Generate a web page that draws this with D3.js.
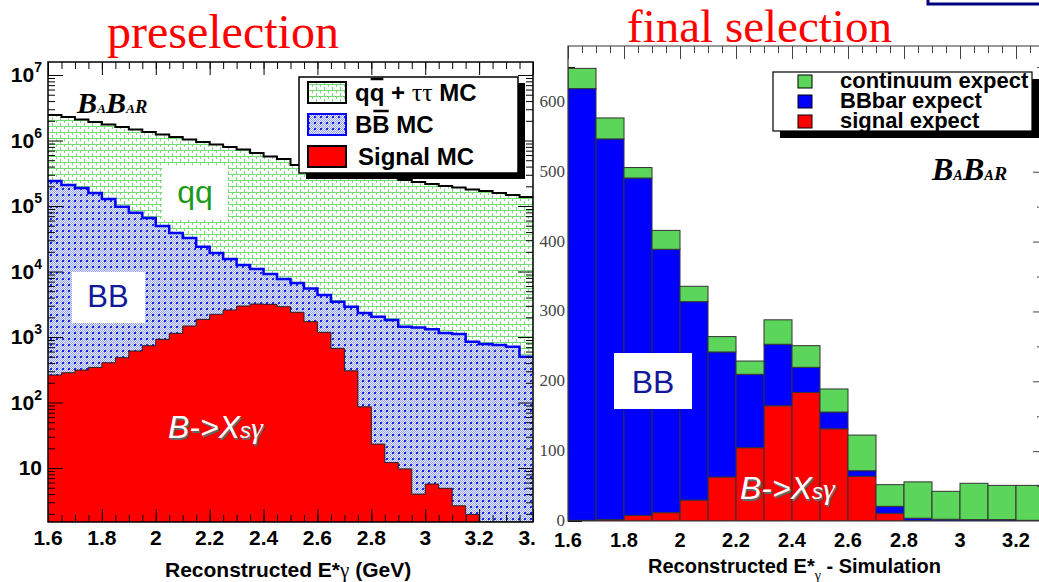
<!DOCTYPE html>
<html>
<head>
<meta charset="utf-8">
<script src="https://cdnjs.cloudflare.com/ajax/libs/d3/7.8.5/d3.min.js"></script>
<style>
  body { margin: 0; background: #fff; }
  svg { display: block; }
  .lab { font-family: "Liberation Sans", Arial, sans-serif; font-weight: bold; }
</style>
</head>
<body>
<svg id="chart" width="1039" height="582"></svg>
<script>

// ---- preselection: 0.05 GeV bins from 1.6 GeV, drawn on a log scale
const preStart = 1.6, preWidth = 0.05;
const qqPre = [2.45e6, 2.28e6, 2.09e6, 1.92e6, 1.75e6, 1.61e6, 1.47e6, 1.35e6, 1.24e6, 1.13e6,
               1.04e6, 9.5e5, 8.7e5, 7.96e5, 7.29e5, 6.44e5, 5.70e5, 5.22e5, 4.23e5, 3.94e5,
               3.67e5, 3.42e5, 3.19e5, 3.03e5, 2.87e5, 2.68e5, 2.49e5, 2.32e5, 2.17e5, 2.02e5,
               1.92e5, 1.79e5, 1.69e5, 1.58e5, 1.47e5, 1.37e5];
const bbPre = [2.41e5, 2.09e5, 1.88e5, 1.58e5, 1.28e5, 9.75e4, 7.9e4, 6.56e4, 4.95e4, 3.87e4,
               3.25e4, 2.39e4, 1.92e4, 1.55e4, 1.26e4, 1.09e4, 9160, 7680, 6670, 5500,
               4370, 3460, 2900, 2320, 2040, 1820, 1440, 1400, 1320, 1150,
               1110, 847, 782, 755, 711, 500];
const sigPre = [263, 285, 313, 344, 405, 483, 611, 736, 922, 1138,
                1472, 1862, 2222, 2585, 2972, 3190, 3155, 2904, 2384, 1713,
                1181, 672, 305, 86, 23.2, 12.1, 9.7, 4.0, 5.7, 4.9,
                2.65, 1.96, 0, 0, 0, 0];
const preXTicks = [1.6, 1.8, 2, 2.2, 2.4, 2.6, 2.8, 3, 3.2, 3.4];
const preYTicks = [10, 1e2, 1e3, 1e4, 1e5, 1e6, 1e7];

// ---- final selection: 0.1 GeV bins from 1.6 GeV, stacked
const finStart = 1.6, finWidth = 0.1;
const sigFin  = [1, 2, 8, 12, 30, 63, 105, 165, 184, 132, 64, 11, 0.5, 0, 0, 0, 0];
const bbFin   = [618, 545, 483, 377, 284, 179, 105, 88, 36, 24, 8, 10, 3.5, 2.5, 2, 2, 1];
const contFin = [29, 30, 15, 27, 22, 22, 19, 35, 31, 33, 51, 31, 52, 40, 52, 49, 50];
const finXTicks = [1.6, 1.8, 2, 2.2, 2.4, 2.6, 2.8, 3, 3.2];
const finYTicks = [0, 100, 200, 300, 400, 500, 600];

const svg = d3.select('#chart');
const defs = svg.append('defs');
const font = '"Liberation Sans", Arial, sans-serif';
const serif = '"Liberation Serif", "Times New Roman", serif';

// hatch patterns (ROOT-ish)
const pq = defs.append('pattern').attr('id', 'hatchQQ')
  .attr('patternUnits', 'userSpaceOnUse').attr('width', 8).attr('height', 6);
pq.append('rect').attr('width', 8).attr('height', 6).attr('fill', '#fff');
pq.append('path').attr('d', 'M0,0.5H8M0.5,0V3M4.5,3V6')
  .attr('stroke', '#74dc74').attr('stroke-width', 1).attr('fill', 'none');

const pb = defs.append('pattern').attr('id', 'hatchBB')
  .attr('patternUnits', 'userSpaceOnUse').attr('width', 6).attr('height', 6);
pb.append('rect').attr('width', 6).attr('height', 6).attr('fill', '#eef0ff');
for (let i = 0; i < 6; i++) for (let j = 0; j < 6; j++) {
  if ((i + j) % 2 === 0) pb.append('rect').attr('x', i).attr('y', j).attr('width', 1).attr('height', 1).attr('fill', '#8e9cf0');
}
pb.append('rect').attr('x', 2).attr('y', 2).attr('width', 2).attr('height', 2).attr('fill', '#1424e8');

// ================= left: preselection =================
const xPre = d3.scaleLinear().domain([1.6, 3.4]).range([48, 533]);
const yPre = d3.scaleLog().domain([1.5, 1.58e7]).range([522, 62]);
const preBottom = yPre.range()[0];

defs.append('clipPath').attr('id', 'clipPre').append('rect')
  .attr('x', 48).attr('y', 62).attr('width', 485).attr('height', 460);

function stepPoints(vals, start, w) {
  const pts = vals.map((v, i) => [start + i * w, v]);
  pts.push([start + vals.length * w, vals[vals.length - 1]]);
  return pts;
}
const yLogSafe = v => v > 0 ? Math.min(yPre(v), preBottom) : preBottom;
const preArea = d3.area().curve(d3.curveStepAfter)
  .x(d => xPre(d[0])).y0(preBottom).y1(d => yLogSafe(d[1]));
const preLine = d3.line().curve(d3.curveStepAfter)
  .x(d => xPre(d[0])).y(d => yLogSafe(d[1]));

const left = svg.append('g').attr('clip-path', 'url(#clipPre)');
const hists = [
  { vals: qqPre, fill: 'url(#hatchQQ)', stroke: '#000', sw: 2 },
  { vals: bbPre, fill: 'url(#hatchBB)', stroke: '#0000ff', sw: 2.5 },
  { vals: sigPre, fill: '#ff0000', stroke: '#222', sw: 1 }
];
hists.forEach(h => {
  const pts = stepPoints(h.vals, preStart, preWidth);
  left.append('path').attr('d', preArea(pts)).attr('fill', h.fill);
  left.append('path').attr('d', preLine(pts)).attr('fill', 'none')
    .attr('stroke', h.stroke).attr('stroke-width', h.sw);
});

// label boxes
left.append('rect').attr('x', 162).attr('y', 165).attr('width', 66).attr('height', 55).attr('fill', '#fff');
left.append('text').attr('x', 195).attr('y', 203).attr('text-anchor', 'middle')
  .attr('font-family', font).attr('font-size', 32).attr('fill', '#1a9a1a').text('qq');
left.append('rect').attr('x', 72).attr('y', 272).attr('width', 73).attr('height', 51).attr('fill', '#fff');
left.append('text').attr('x', 108).attr('y', 307).attr('text-anchor', 'middle')
  .attr('font-family', font).attr('font-size', 31).attr('fill', '#12189a').text('BB');

function decayLabel(g, x, y) {
  [['#666', 1.5], ['#fff', 0]].forEach(([c, o]) => {
    const t = g.append('text').attr('x', x + o).attr('y', y + o).attr('fill', c)
      .attr('font-family', font).attr('font-style', 'italic').attr('font-size', 32);
    t.append('tspan').text('B->X');
    t.append('tspan').attr('font-size', 22).text('s');
    t.append('tspan').attr('font-family', serif).attr('font-size', 30).text('\u03b3');
  });
}
decayLabel(left, 168, 438);

// axes of left panel
function tickAxis(g, axis, vals, size, tx) {
  g.append('g').attr('transform', tx)
    .call(axis.tickValues(vals).tickSize(size).tickSizeOuter(0).tickFormat(''))
    .call(s => s.select('.domain').remove())
    .call(s => s.selectAll('line').attr('stroke', '#000').attr('stroke-width', 1));
}
const preMinorX = d3.range(1.65, 3.4, 0.05);
const preMinorY = yPre.ticks().filter(v => !preYTicks.includes(v));
const axL = svg.append('g');
tickAxis(axL, d3.axisBottom(xPre), preXTicks, -13, 'translate(0,522)');
tickAxis(axL, d3.axisBottom(xPre), preMinorX, -7, 'translate(0,522)');
tickAxis(axL, d3.axisTop(xPre), preXTicks, -13, 'translate(0,62)');
tickAxis(axL, d3.axisTop(xPre), preMinorX, -7, 'translate(0,62)');
tickAxis(axL, d3.axisLeft(yPre), preYTicks, -15, 'translate(48,0)');
tickAxis(axL, d3.axisLeft(yPre), preMinorY, -7, 'translate(48,0)');
tickAxis(axL, d3.axisRight(yPre), preYTicks, -15, 'translate(533,0)');
tickAxis(axL, d3.axisRight(yPre), preMinorY, -7, 'translate(533,0)');
axL.append('rect').attr('x', 48).attr('y', 62).attr('width', 485).attr('height', 460)
  .attr('fill', 'none').attr('stroke', '#000').attr('stroke-width', 1.5);

preXTicks.forEach(v => {
  axL.append('text').attr('class', 'lab').attr('x', xPre(v)).attr('y', 545)
    .attr('text-anchor', 'middle').attr('font-size', 21).text(d3.format('')(v));
});
preYTicks.forEach(v => {
  const t = axL.append('text').attr('class', 'lab').attr('x', 42).attr('y', yPre(v) + 7)
    .attr('text-anchor', 'end').attr('font-size', 21).text('10');
  const e = Math.round(Math.log10(v));
  if (e > 1) t.append('tspan').attr('dy', -10).attr('font-size', 14).text(e);
});
const tl = axL.append('text').attr('class', 'lab').attr('x', 165).attr('y', 577).attr('font-size', 21);
tl.append('tspan').text('Reconstructed E*');
tl.append('tspan').attr('font-family', serif).attr('font-weight', 'normal').text('\u03b3');
tl.append('tspan').text(' (GeV)');

// BaBar logo
function babar(g, x, y, s) {
  const t = g.append('text').attr('x', x).attr('y', y).attr('font-family', serif)
    .attr('font-weight', 'bold').attr('font-style', 'italic').attr('fill', '#000');
  t.append('tspan').attr('font-size', s).text('B');
  t.append('tspan').attr('font-size', s * 0.45).text('A');
  t.append('tspan').attr('font-size', s).text('B');
  t.append('tspan').attr('font-size', s * 0.45).text('A');
  t.append('tspan').attr('font-size', s * 0.62).text('R');
}
babar(svg, 77, 113, 30);

// legend (left)
svg.append('rect').attr('x', 306).attr('y', 83).attr('width', 219).attr('height', 96).attr('fill', '#000');
svg.append('rect').attr('x', 299).attr('y', 77).attr('width', 219).attr('height', 96)
  .attr('fill', '#fff').attr('stroke', '#000').attr('stroke-width', 1.5);
const legPre = [
  { fill: 'url(#hatchQQ)', stroke: '#000', y: 82 },
  { fill: 'url(#hatchBB)', stroke: '#0000ff', y: 114 },
  { fill: '#ff0000', stroke: '#000', y: 146 }
];
legPre.forEach(d => {
  svg.append('rect').attr('x', 308).attr('y', d.y).attr('width', 38).attr('height', 21)
    .attr('fill', d.fill).attr('stroke', d.stroke).attr('stroke-width', 2);
});
const l1 = svg.append('text').attr('class', 'lab').attr('x', 355).attr('y', 101).attr('font-size', 24);
l1.append('tspan').text('qq');
l1.append('tspan').text(' + ');
l1.append('tspan').attr('font-family', serif).attr('font-weight', 'normal').attr('font-size', 26).text('\u03c4\u03c4');
l1.append('tspan').text(' MC');
const l2 = svg.append('text').attr('class', 'lab').attr('x', 355).attr('y', 133).attr('font-size', 24).text('BB MC');
svg.append('text').attr('class', 'lab').attr('x', 358).attr('y', 165).attr('font-size', 24).text('Signal MC');
// bars over the anti-particles
[[l1, 1, 79], [l2, 1, 111]].forEach(([t, idx, yy]) => {
  const n = t.node();
  const p = n.getStartPositionOfChar(idx), e = n.getEndPositionOfChar(idx);
  svg.append('line').attr('x1', p.x + 1).attr('x2', e.x - 1).attr('y1', yy).attr('y2', yy)
    .attr('stroke', '#000').attr('stroke-width', 2.5);
});

// ================= right: final selection =================
svg.append('rect').attr('x', 535).attr('y', 42).attr('width', 504).attr('height', 540).attr('fill', '#fff');

const xFin = d3.scaleLinear().domain([1.6, 3.4]).range([568, 1072]);
const yFin = d3.scaleLinear().domain([0, 680]).range([521, 46]);
defs.append('clipPath').attr('id', 'clipFin').append('rect')
  .attr('x', 568).attr('y', 46).attr('width', 472).attr('height', 475);

const right = svg.append('g');
const finMinorX = d3.range(1.65, 3.4, 0.05);
tickAxis(right, d3.axisLeft(yFin), finYTicks, -14, 'translate(568,0)');
tickAxis(right, d3.axisLeft(yFin), [50, 150, 250, 350, 450, 550, 650], -7, 'translate(568,0)');
tickAxis(right, d3.axisBottom(xFin), finXTicks, -14, 'translate(0,521)');
tickAxis(right, d3.axisBottom(xFin), finMinorX, -7, 'translate(0,521)');

const rows = sigFin.map((s, i) => ({ x: finStart + i * finWidth, sig: s, bb: bbFin[i], cont: contFin[i] }));
const stack = d3.stack().keys(['sig', 'bb', 'cont'])(rows);
const finColors = { sig: '#ff0000', bb: '#0000ff', cont: '#5bd65b' };
const bars = right.append('g').attr('clip-path', 'url(#clipFin)');
stack.forEach(layer => {
  bars.selectAll(null).data(layer.filter(d => d[1] - d[0] > 0.3)).enter().append('rect')
    .attr('x', d => xFin(d.data.x))
    .attr('width', xFin(finStart + finWidth) - xFin(finStart))
    .attr('y', d => yFin(d[1]))
    .attr('height', d => yFin(d[0]) - yFin(d[1]))
    .attr('fill', finColors[layer.key])
    .attr('stroke', '#333').attr('stroke-width', 1);
});

const rAx = right.append('g').attr('clip-path', 'url(#clipFin)');
tickAxis(rAx, d3.axisTop(xFin), finXTicks.concat([3.4]), -13, 'translate(0,46)');
tickAxis(rAx, d3.axisTop(xFin), finMinorX, -7, 'translate(0,46)');
tickAxis(rAx, d3.axisRight(yFin), finYTicks, -7, 'translate(1040,0)');
tickAxis(rAx, d3.axisRight(yFin), [50, 150, 250, 350, 450, 550, 650], -3, 'translate(1040,0)');
rAx.selectAll('line').attr('stroke', '#444');
right.append('path').attr('d', 'M1040,46H568V521H1040').attr('fill', 'none')
  .attr('stroke', '#333').attr('stroke-width', 1.2);

finYTicks.forEach(v => {
  right.append('text').attr('x', 565).attr('y', yFin(v) + 5).attr('text-anchor', 'end')
    .attr('font-family', serif).attr('font-size', 17).attr('fill', '#444').text(v);
});
finXTicks.forEach(v => {
  right.append('text').attr('class', 'lab').attr('x', xFin(v)).attr('y', 547)
    .attr('text-anchor', 'middle').attr('font-size', 20).text(d3.format('')(v));
});
const tr = right.append('text').attr('class', 'lab').attr('x', 648).attr('y', 573).attr('font-size', 20);
tr.append('tspan').text('Reconstructed E*');
tr.append('tspan').attr('font-family', serif).attr('font-weight', 'normal').attr('font-size', 14).attr('dy', 7).text('\u03b3');
tr.append('tspan').attr('dy', -7).text(' - Simulation');

right.append('rect').attr('x', 614).attr('y', 353).attr('width', 78).attr('height', 56).attr('fill', '#fff');
right.append('text').attr('x', 653).attr('y', 393).attr('text-anchor', 'middle')
  .attr('font-family', font).attr('font-size', 32).attr('fill', '#12189a').text('BB');
decayLabel(right, 740, 499);
babar(right, 932, 180, 32);

// legend (right)
right.append('rect').attr('x', 780).attr('y', 79).attr('width', 259).attr('height', 59).attr('fill', '#000');
right.append('rect').attr('x', 773).attr('y', 72).attr('width', 259).attr('height', 59)
  .attr('fill', '#fff').attr('stroke', '#000').attr('stroke-width', 1.2);
const legFin = [
  { c: finColors.cont, t: 'continuum expect', y: 88 },
  { c: finColors.bb, t: 'BBbar expect', y: 108 },
  { c: finColors.sig, t: 'signal expect', y: 128 }
];
legFin.forEach(d => {
  right.append('rect').attr('x', 798).attr('y', d.y - 13).attr('width', 14).attr('height', 13)
    .attr('fill', d.c).attr('stroke', '#000').attr('stroke-width', 1);
  right.append('text').attr('class', 'lab').attr('x', 840).attr('y', d.y)
    .attr('font-size', 22).text(d.t);
});

// titles
svg.append('text').attr('x', 107).attr('y', 48).attr('font-family', serif)
  .attr('font-size', 48).attr('fill', '#ff0000').text('preselection');
svg.append('text').attr('x', 627).attr('y', 42).attr('font-family', serif)
  .attr('font-size', 47).attr('fill', '#ff0000').text('final selection');
svg.append('path').attr('d', 'M928,0V4H1039').attr('fill', 'none')
  .attr('stroke', '#000080').attr('stroke-width', 3);
</script>
</body>
</html>
